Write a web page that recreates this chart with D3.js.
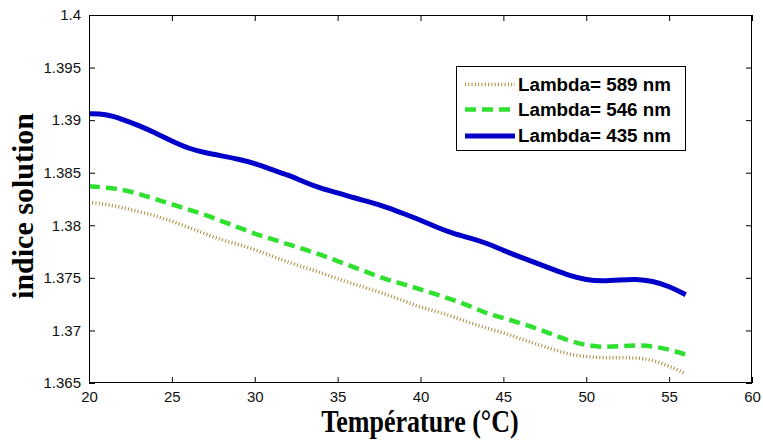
<!DOCTYPE html>
<html>
<head>
<meta charset="utf-8">
<script src="https://cdn.jsdelivr.net/npm/d3@7"></script>
<style>
  html, body { margin: 0; padding: 0; background: #fff; }
  svg { display: block; }
</style>
</head>
<body>
<svg id="chart" width="763" height="441"></svg>
<script>
// Temperature grid (°C)
const temperature = [20,21,22,23,24,25,26,27,28,29,30,31,32,33,34,35,36,37,38,
                     39,40,41,42,43,44,45,46,47,48,49,50,51,52,53,54,55,56];

// Refractive index of the solution at each wavelength
const n589 = [1.3822,1.3820,1.3817,1.3813,1.3809,1.3804,1.3798,1.3792,1.3786,1.3782,
              1.3777,1.3771,1.3765,1.3760,1.3755,1.3749,1.3744,1.3739,1.3734,1.3728,
              1.3722,1.3718,1.3713,1.3707,1.3702,1.3698,1.3692,1.3687,1.3682,1.3677,
              1.3675,1.3674,1.3674,1.3674,1.3672,1.3666,1.3659];
const n546 = [1.3837,1.3836,1.3834,1.3830,1.3825,1.3820,1.3815,1.3810,1.3804,1.3798,
              1.3792,1.3787,1.3782,1.3777,1.3772,1.3766,1.3760,1.3754,1.3748,1.3744,
              1.3739,1.3734,1.3729,1.3723,1.3716,1.3712,1.3707,1.3702,1.3696,1.3690,
              1.3686,1.3684,1.3685,1.3686,1.3685,1.3682,1.3677];
const n435 = [1.3906,1.3906,1.3901,1.3895,1.3888,1.3880,1.3873,1.3869,1.3866,1.3863,
              1.3859,1.3853,1.3848,1.3841,1.3835,1.3831,1.3826,1.3822,1.3817,1.3811,
              1.3805,1.3798,1.3792,1.3788,1.3783,1.3776,1.3770,1.3764,1.3758,1.3752,
              1.3748,1.3747,1.3748,1.3749,1.3747,1.3742,1.3734];

const seriesNames = ["Lambda= 589 nm", "Lambda= 546 nm", "Lambda= 435 nm"];

// Axis ticks
const xTicks = [20,25,30,35,40,45,50,55,60];
const xTickLabels = ["20","25","30","35","40","45","50","55","60"];
const yTicks = [1.365,1.37,1.375,1.38,1.385,1.39,1.395,1.4];
const yTickLabels = ["1.365","1.37","1.375","1.38","1.385","1.39","1.395","1.4"];

const xTitle = "Température (°C)";
const yTitle = "indice solution";

const svg = d3.select("#chart");
const plotL = 89, plotR = 752, plotT = 15, plotB = 383;

const x = d3.scaleLinear().domain([20, 60]).range([plotL, plotR]);
const y = d3.scaleLinear().domain([1.365, 1.4]).range([plotB, plotT]);

const styles = [
  { color: "#a98c3c", width: 3.5, dash: "1,2.3" },
  { color: "#2fe02f", width: 4.5, dash: "11,6" },
  { color: "#0000c8", width: 5,   dash: null }
];
const values = [n589, n546, n435];

// Curves
const line = d3.line()
  .x(d => x(d[0]))
  .y(d => y(d[1]))
  .curve(d3.curveBasis);

values.forEach((vals, i) => {
  const pts = temperature.map((t, k) => [t, vals[k]]);
  svg.append("path")
    .datum(pts)
    .attr("d", line)
    .attr("fill", "none")
    .attr("stroke", styles[i].color)
    .attr("stroke-width", styles[i].width)
    .attr("stroke-dasharray", styles[i].dash)
    .attr("stroke-linejoin", "round");
});

// Axes with inward ticks on all four sides
const tickFont = "'Liberation Sans', Arial, sans-serif";

const gx = svg.append("g").attr("transform", `translate(0,${plotB})`)
  .call(d3.axisBottom(x).tickValues(xTicks)
        .tickFormat((d, i) => xTickLabels[i])
        .tickSizeInner(-6).tickSizeOuter(0).tickPadding(8));
const gy = svg.append("g").attr("transform", `translate(${plotL},0)`)
  .call(d3.axisLeft(y).tickValues(yTicks)
        .tickFormat((d, i) => yTickLabels[i])
        .tickSizeInner(-6).tickSizeOuter(0).tickPadding(8));
const gxt = svg.append("g").attr("transform", `translate(0,${plotT})`)
  .call(d3.axisTop(x).tickValues(xTicks).tickFormat("")
        .tickSizeInner(-6).tickSizeOuter(0));
const gyr = svg.append("g").attr("transform", `translate(${plotR},0)`)
  .call(d3.axisRight(y).tickValues(yTicks).tickFormat("")
        .tickSizeInner(-6).tickSizeOuter(0));

[gx, gy, gxt, gyr].forEach(g => {
  g.select(".domain").remove();
  g.selectAll(".tick line").attr("stroke", "#000").attr("stroke-width", 1);
  g.selectAll(".tick text")
    .attr("fill", "#111")
    .style("font-family", tickFont)
    .style("font-size", "15px");
});

// Frame
svg.append("rect").attr("x", plotL + 0.5).attr("y", plotT + 0.5)
   .attr("width", plotR - plotL - 1).attr("height", plotB - plotT - 1)
   .attr("fill", "none").attr("stroke", "#000").attr("stroke-width", 1);

// Axis titles
const titleFont = "'Liberation Serif', 'Times New Roman', serif";
svg.append("text")
  .attr("transform", `translate(420,432) scale(1,1.22)`)
  .attr("text-anchor", "middle")
  .style("font-family", titleFont)
  .style("font-weight", "bold")
  .style("font-size", "26px")
  .attr("fill", "#000")
  .text(xTitle);

svg.append("text")
  .attr("transform", `translate(33,206) rotate(-90)`)
  .attr("text-anchor", "middle")
  .style("font-family", titleFont)
  .style("font-weight", "bold")
  .style("font-size", "30px")
  .attr("fill", "#000")
  .text(yTitle);

// Legend
const lg = svg.append("g");
lg.append("rect").attr("x", 456.5).attr("y", 66.5)
  .attr("width", 229).attr("height", 84)
  .attr("fill", "#fff").attr("stroke", "#000").attr("stroke-width", 1);

const rowY = [84.5, 109.5, 136];
seriesNames.forEach((name, i) => {
  lg.append("line")
    .attr("x1", 465).attr("x2", 515)
    .attr("y1", rowY[i]).attr("y2", rowY[i])
    .attr("stroke", styles[i].color)
    .attr("stroke-width", styles[i].width)
    .attr("stroke-dasharray", styles[i].dash);
  lg.append("text")
    .attr("x", 518).attr("y", rowY[i] + 6)
    .style("font-family", tickFont)
    .style("font-weight", "bold")
    .style("font-size", "18.8px")
    .attr("fill", "#000")
    .text(name);
});
</script>
</body>
</html>
